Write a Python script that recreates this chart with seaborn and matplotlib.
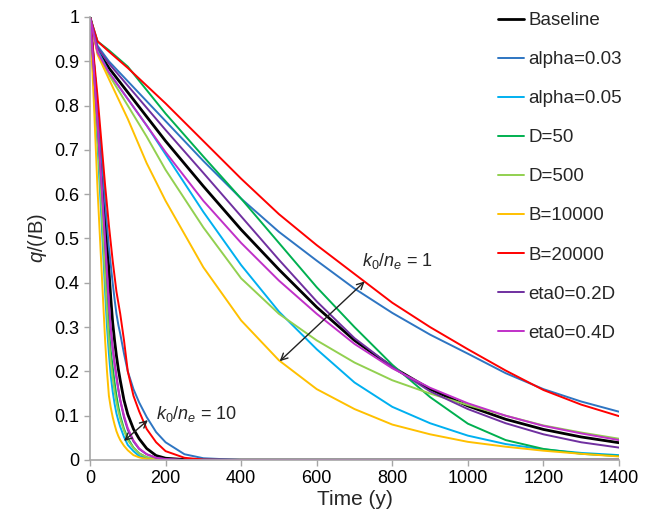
import matplotlib
matplotlib.use("Agg")
import matplotlib.pyplot as plt
from matplotlib.ticker import FuncFormatter
import pandas as pd
import seaborn as sns

# === DATOS ===
CASES = ["Baseline", "alpha=0.03", "alpha=0.05", "D=50", "D=500",
         "B=10000", "B=20000", "eta0=0.2D", "eta0=0.4D"]
COLORS = ["#000000", "#2E75C2", "#00B0F0", "#00B050", "#92D050",
          "#FFC000", "#FF0000", "#7030A0", "#C030C8"]

# k0/ne = 1 (curvas lentas)
T_SLOW = [0, 20, 50, 100, 150, 200, 300, 400, 500, 600, 700, 800, 900, 1000, 1100, 1200, 1300, 1400]
SLOW_BASELINE = [1, 0.925, 0.885, 0.83, 0.775, 0.72, 0.618, 0.52, 0.43, 0.345, 0.27, 0.21, 0.16, 0.122, 0.092, 0.069, 0.052, 0.039]
SLOW_ALPHA003 = [1, 0.935, 0.9, 0.855, 0.81, 0.765, 0.675, 0.59, 0.515, 0.45, 0.387, 0.332, 0.283, 0.24, 0.196, 0.16, 0.132, 0.109]
SLOW_ALPHA005 = [1, 0.925, 0.875, 0.815, 0.755, 0.69, 0.56, 0.44, 0.335, 0.25, 0.175, 0.12, 0.083, 0.055, 0.036, 0.024, 0.016, 0.011]
SLOW_D50 = [1, 0.945, 0.925, 0.888, 0.835, 0.782, 0.685, 0.59, 0.49, 0.39, 0.30, 0.215, 0.142, 0.082, 0.045, 0.025, 0.014, 0.009]
SLOW_D500 = [1, 0.92, 0.87, 0.80, 0.73, 0.655, 0.525, 0.41, 0.33, 0.27, 0.22, 0.18, 0.15, 0.124, 0.1, 0.078, 0.062, 0.048]
SLOW_B10000 = [1, 0.915, 0.86, 0.77, 0.67, 0.585, 0.435, 0.315, 0.225, 0.16, 0.115, 0.08, 0.058, 0.041, 0.03, 0.021, 0.014, 0.008]
SLOW_B20000 = [1, 0.945, 0.922, 0.885, 0.845, 0.805, 0.72, 0.635, 0.555, 0.485, 0.42, 0.355, 0.30, 0.25, 0.202, 0.158, 0.125, 0.099]
SLOW_ETA02 = [1, 0.93, 0.895, 0.845, 0.795, 0.745, 0.648, 0.55, 0.452, 0.358, 0.275, 0.21, 0.155, 0.115, 0.083, 0.058, 0.04, 0.028]
SLOW_ETA04 = [1, 0.92, 0.875, 0.815, 0.755, 0.695, 0.585, 0.49, 0.405, 0.33, 0.262, 0.207, 0.163, 0.128, 0.1, 0.077, 0.06, 0.045]

# k0/ne = 10 (curvas rápidas)
T_FAST = [0, 10, 20, 30, 40, 45, 50, 55, 60, 65, 70, 75, 80, 90, 100, 115, 130, 150, 175, 200, 250, 300, 400, 1400]
FAST_BASELINE = [1, 0.89, 0.78, 0.67, 0.55, 0.49, 0.43, 0.365, 0.31, 0.27, 0.235, 0.205, 0.18, 0.135, 0.103, 0.07, 0.048, 0.026, 0.01, 0.004, 0.001, 0, 0, 0]
FAST_ALPHA003 = [1, 0.9, 0.8, 0.69, 0.58, 0.53, 0.48, 0.44, 0.4, 0.363, 0.33, 0.305, 0.285, 0.24, 0.2, 0.16, 0.13, 0.097, 0.063, 0.04, 0.013, 0.004, 0, 0]
FAST_ALPHA005 = [1, 0.85, 0.71, 0.55, 0.38, 0.30, 0.24, 0.19, 0.155, 0.127, 0.105, 0.089, 0.075, 0.052, 0.034, 0.02, 0.009, 0.004, 0.001, 0, 0, 0, 0, 0]
FAST_D50 = [1, 0.87, 0.75, 0.62, 0.45, 0.365, 0.294, 0.245, 0.21, 0.175, 0.145, 0.12, 0.1, 0.07, 0.049, 0.028, 0.015, 0.006, 0.002, 0, 0, 0, 0, 0]
FAST_D500 = [1, 0.86, 0.73, 0.58, 0.41, 0.335, 0.27, 0.222, 0.185, 0.155, 0.13, 0.11, 0.093, 0.066, 0.045, 0.027, 0.015, 0.006, 0.002, 0.001, 0, 0, 0, 0]
FAST_B10000 = [1, 0.81, 0.61, 0.44, 0.27, 0.2, 0.145, 0.118, 0.097, 0.08, 0.065, 0.054, 0.045, 0.032, 0.022, 0.011, 0.006, 0.002, 0.001, 0, 0, 0, 0, 0]
FAST_B20000 = [1, 0.91, 0.82, 0.72, 0.62, 0.575, 0.53, 0.49, 0.45, 0.415, 0.38, 0.355, 0.33, 0.27, 0.2, 0.145, 0.11, 0.07, 0.04, 0.02, 0.005, 0.001, 0, 0]
FAST_ETA02 = [1, 0.88, 0.76, 0.63, 0.5, 0.43, 0.36, 0.30, 0.255, 0.22, 0.19, 0.16, 0.135, 0.096, 0.068, 0.042, 0.025, 0.013, 0.005, 0.002, 0, 0, 0, 0]
FAST_ETA04 = [1, 0.88, 0.76, 0.63, 0.49, 0.42, 0.35, 0.295, 0.25, 0.215, 0.185, 0.158, 0.135, 0.1, 0.072, 0.044, 0.026, 0.013, 0.005, 0.002, 0, 0, 0, 0]

SLOW = [SLOW_BASELINE, SLOW_ALPHA003, SLOW_ALPHA005, SLOW_D50, SLOW_D500,
        SLOW_B10000, SLOW_B20000, SLOW_ETA02, SLOW_ETA04]
FAST = [FAST_BASELINE, FAST_ALPHA003, FAST_ALPHA005, FAST_D50, FAST_D500,
        FAST_B10000, FAST_B20000, FAST_ETA02, FAST_ETA04]

X_TICKS = [0, 200, 400, 600, 800, 1000, 1200, 1400]
Y_TICKS = [0, 0.1, 0.2, 0.3, 0.4, 0.5, 0.6, 0.7, 0.8, 0.9, 1]

# === TABLA LARGA ===
rows = []
for name, slow, fast in zip(CASES, SLOW, FAST):
    for t, q in zip(T_SLOW, slow):
        rows.append({"time": t, "q": q, "case": name, "regime": "k1"})
    for t, q in zip(T_FAST, fast):
        rows.append({"time": t, "q": q, "case": name, "regime": "k10"})
df = pd.DataFrame(rows)

# === ESTILO ===
sns.set_theme(style="white")
plt.rcParams["font.family"] = ["Liberation Sans", "DejaVu Sans"]
plt.rcParams["mathtext.fontset"] = "custom"
plt.rcParams["mathtext.rm"] = "Liberation Sans"
plt.rcParams["mathtext.it"] = "Liberation Sans:italic"

GRAY = "#A6A6A6"

fig = plt.figure(figsize=(6.51, 5.22), dpi=100)
ax = fig.add_axes([90 / 651, 62 / 522, 529 / 651, 443 / 522])

sns.lineplot(data=df, x="time", y="q", hue="case", units="regime", estimator=None,
             hue_order=CASES, palette=dict(zip(CASES, COLORS)),
             linewidth=1.4, ax=ax, legend=True)

for line in ax.lines:
    if line.get_color() in ("#000000", (0.0, 0.0, 0.0, 1.0)):
        line.set_linewidth(2.0)

ax.set_xlim(0, 1400)
ax.set_ylim(0, 1)
ax.set_xticks(X_TICKS)
ax.set_yticks(Y_TICKS)
ax.yaxis.set_major_formatter(FuncFormatter(lambda v, p: f"{v:g}"))
ax.tick_params(direction="out", length=4, width=1, color=GRAY, labelsize=13,
               labelcolor="#000000", left=True, bottom=True)
sns.despine(ax=ax)
for side in ["left", "bottom"]:
    ax.spines[side].set_color(GRAY)
    ax.spines[side].set_linewidth(1.2)

ax.set_xlabel("Time (y)", fontsize=15, labelpad=2)
ax.set_ylabel(r"$q$/($I$B)", fontsize=14.5)

# flechas y textos
arrow = dict(arrowstyle="<->", color="#222222", lw=1.0, shrinkA=0, shrinkB=0)
ax.annotate("", xy=(727, 0.403), xytext=(502, 0.223), arrowprops=arrow)
ax.annotate("", xy=(153, 0.09), xytext=(90, 0.043), arrowprops=arrow)
ax.text(719, 0.45, r"$k_0/n_e$ = 1", fontsize=13, va="center", ha="left")
ax.text(174, 0.104, r"$k_0/n_e$ = 10", fontsize=13, va="center", ha="left")

handles, labels = ax.get_legend_handles_labels()
leg = ax.legend(handles, labels, loc="upper left", frameon=False,
                bbox_to_anchor=(498 / 651, 1 - 12 / 522), bbox_transform=fig.transFigure,
                borderpad=0, borderaxespad=0, handlelength=1.4, handletextpad=0.2,
                labelspacing=1.17, fontsize=13.5)
for h in leg.get_lines():
    h.set_linewidth(1.4)
leg.get_lines()[0].set_linewidth(2.0)

fig.savefig("out.png", dpi=100)
